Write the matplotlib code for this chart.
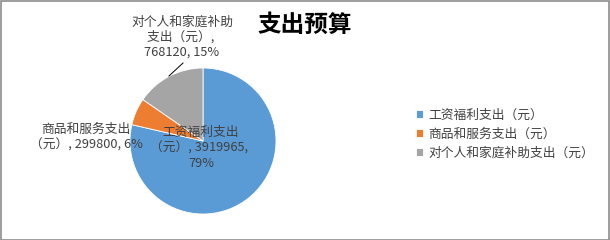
import matplotlib.pyplot as plt
from matplotlib.patches import Rectangle

plt.rcParams['font.family'] = ['Noto Sans CJK SC', 'DejaVu Sans']

# budget data
categories = ['工资福利支出（元）', '商品和服务支出（元）', '对个人和家庭补助支出（元）']
values = [3919965, 299800, 768120]
percents = [79, 6, 15]
colors = ['#5b9bd5', '#ed7d31', '#a5a5a5']

fig = plt.figure(figsize=(6.1, 2.4), dpi=100)
fig.patch.set_facecolor('white')
fig.add_artist(Rectangle((0.001, 0.002), 0.997, 0.995, transform=fig.transFigure,
                         fill=False, edgecolor='#8c8c8c', linewidth=1.2))

# pie axes (circle, radius ~73 px)
ax = fig.add_axes([130 / 610, 26 / 240, 146 / 610, 146 / 240])
wedges, _ = ax.pie(values, colors=colors, startangle=90, counterclock=False,
                   radius=1, wedgeprops=dict(linewidth=0.6, edgecolor='white'))
ax.set_aspect('auto')
ax.set_xlim(-1, 1)
ax.set_ylim(-1, 1)
ax.axis('off')

fig.text(305 / 610, 1 - 25 / 240, '支出预算', ha='center', va='center',
         fontsize=17, fontweight='bold', color='black')

lab_col = '#404040'
fs = 9.2
fig.text(201 / 610, 1 - 148 / 240,
         '工资福利支出\n（元）, {}, \n{}%'.format(values[0], percents[0]),
         ha='center', va='center', fontsize=fs, color=lab_col, linespacing=1.2)
fig.text(86 / 610, 1 - 137 / 240,
         '商品和服务支出\n（元）, {}, {}%'.format(values[1], percents[1]),
         ha='center', va='center', fontsize=fs, color=lab_col, linespacing=1.2)
fig.text(182 / 610, 1 - 37 / 240,
         '对个人和家庭补助\n支出（元）, \n{}, {}%'.format(values[2], percents[2]),
         ha='center', va='center', fontsize=fs, color=lab_col, linespacing=1.2)
# leader line for the small grey label
fig.add_artist(plt.Line2D([169 / 610, 183 / 610], [1 - 76 / 240, 1 - 63 / 240],
                          transform=fig.transFigure, color='black', linewidth=0.7))

leg = fig.legend(wedges, categories, loc='center left',
                 bbox_to_anchor=(404 / 610, 1 - 134 / 240), frameon=False,
                 fontsize=fs, handlelength=0.55, handleheight=0.55,
                 handletextpad=0.45, labelspacing=0.45)
for t in leg.get_texts():
    t.set_color(lab_col)

fig.savefig('out.png', dpi=100, facecolor='white')
